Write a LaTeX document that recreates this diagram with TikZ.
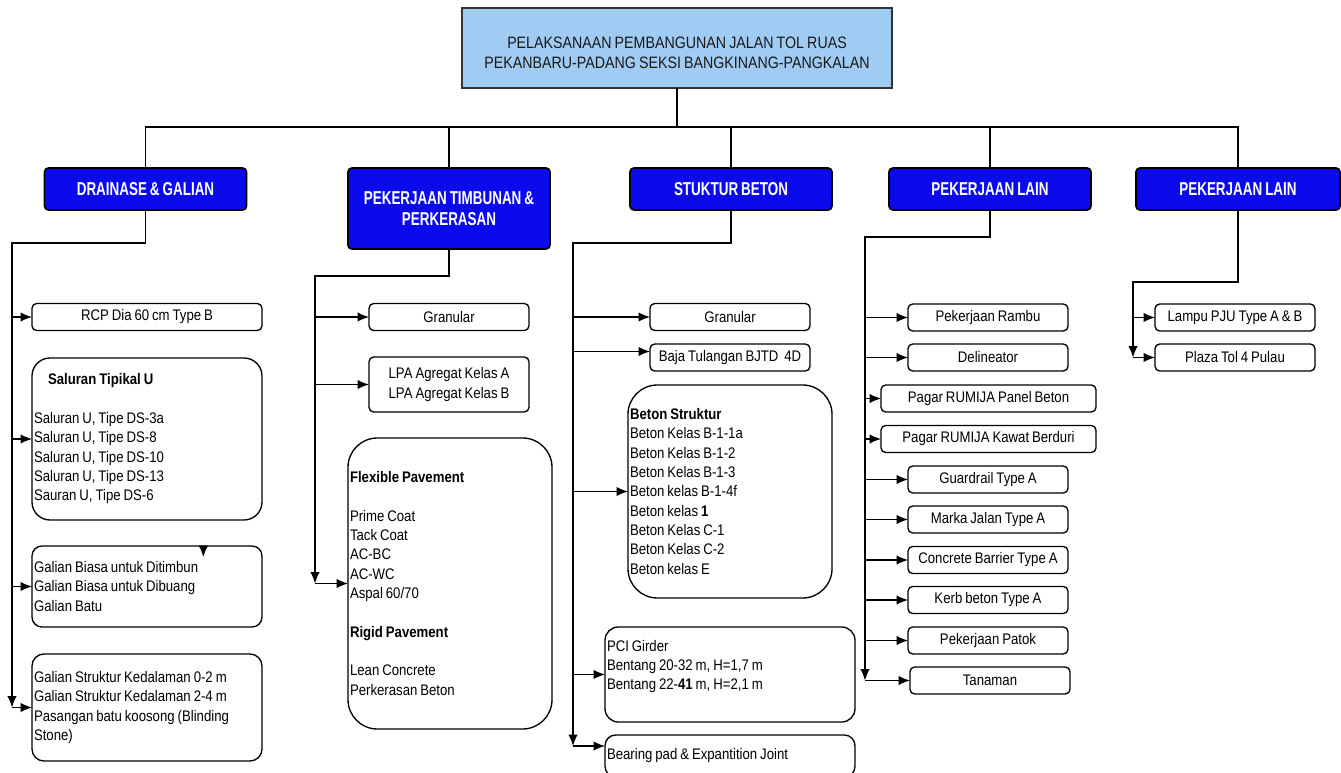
\documentclass[tikz,border=0pt]{standalone}
\usepackage{fontspec}
\setmainfont{Liberation Sans}[FakeStretch=0.86, WordSpace=0.8]
\newfontfamily\headfont{Liberation Sans}[FakeStretch=0.72, WordSpace=0.8]
\usetikzlibrary{arrows.meta}
\definecolor{titlebg}{RGB}{160,204,244}
\definecolor{headbg}{RGB}{10,10,236}

\begin{document}
\begin{tikzpicture}[x=0.75pt, y=-0.75pt,
    every node/.style={inner sep=0pt, outer sep=0pt,
      font=\fontsize{11.5}{14.5}\selectfont},
    titlebox/.style={draw=black!80, line width=1pt, fill=titlebg,
      minimum width=322.5pt, minimum height=60pt, align=center, text=black!90,
      font=\fontsize{12.4}{15}\selectfont},
    headbox/.style={draw=black, line width=1.3pt, fill=headbg,
      rounded corners=3pt, minimum width=151.5pt, minimum height=31.5pt,
      text=white, align=center, font=\headfont\bfseries\fontsize{14}{16}\selectfont},
    itembox/.style={draw, line width=1pt, rounded corners=3.5pt,
      minimum width=120pt, minimum height=20.25pt},
    listbox/.style={draw, line width=1pt, rounded corners=#1,
      align=flush left, inner xsep=1.5pt},
    link/.style={line width=1pt},
    arr/.style={line width=1pt, -{Latex[length=8.5pt,width=7pt]}}]
    \clip (0,0) rectangle (1341,773);
    \node[titlebox] (top) at (677,48)
      {\rule{0pt}{16pt}PELAKSANAAN PEMBANGUNAN JALAN TOL RUAS\\PEKANBARU-PADANG SEKSI BANGKINANG-PANGKALAN};
    \node[headbox] (h1) at (145.5,189) {DRAINASE \& GALIAN};
    \node[headbox, minimum height=60.75pt] (h2) at (449,208.5)
      {PEKERJAAN TIMBUNAN \&\\PERKERASAN};
    \node[headbox] (h3) at (731,189) {STUKTUR BETON};
    \node[headbox] (h4) at (990,189) {PEKERJAAN LAIN};
    \node[headbox, minimum width=153pt] (h5) at (1238,189) {PEKERJAAN LAIN};
    \coordinate (bus) at (675,127);
    \draw[link] (top.south) -- (top.south |- bus);
    \draw[link] (h1.north) |- (h5.north |- bus) -- (h5.north);
    \foreach \h in {h2,h3,h4}
      \draw[link] (\h.north) -- (\h.north |- bus);

    \node[itembox, minimum width=172.5pt] (rcp) at (147,317) {RCP Dia 60 cm Type B};
    \node[listbox=13.5pt, text width=169.5pt, minimum height=121.5pt] (salur) at (147,439)
      {\hspace*{10.5pt}\textbf{Saluran Tipikal U}\\[14.5pt]
       Saluran U, Tipe DS-3a\\Saluran U, Tipe DS-8\\Saluran U, Tipe DS-10\\
       Saluran U, Tipe DS-13\\Sauran U, Tipe DS-6};
    \node[listbox=7.5pt, text width=169.5pt, minimum height=60.75pt] (gal) at (147,586.5)
      {Galian Biasa untuk Ditimbun\\Galian Biasa untuk Dibuang\\Galian Batu};
    \node[listbox=9pt, text width=169.5pt, minimum height=80.25pt] (gst) at (147,707.5)
      {Galian Struktur Kedalaman 0-2 m\\Galian Struktur Kedalaman 2-4 m\\
       Pasangan batu koosong (Blinding\\Stone)};
    \coordinate (c1) at (12,243);
    \draw[arr] (h1.south) |- (c1) -- (c1 |- gst.west);
    \foreach \n in {rcp,salur,gal,gst}
      \draw[arr] (c1 |- \n.west) -- (\n.west);
    \draw[arr] ([xshift=-44pt]gal.north east) -- ++(0,11);

    \node[itembox] (gr1) at (449,317) {Granular};
    \node[itembox, minimum height=41.25pt, align=center] (lpa) at (449,384.5)
      {LPA Agregat Kelas A\\LPA Agregat Kelas B};
    \node[listbox=22pt, text width=150pt, minimum height=218.25pt] (flex) at (450,583.5)
      {\textbf{Flexible Pavement}\\[14.5pt]
       Prime Coat\\Tack Coat\\AC-BC\\AC-WC\\Aspal 60/70\\[14.5pt]
       \textbf{Rigid Pavement}\\[14.5pt]
       Lean Concrete\\Perkerasan Beton};
    \coordinate (c2) at (315,276);
    \draw[arr] (h2.south) |- (c2) -- (c2 |- flex.west);
    \foreach \n in {gr1,lpa,flex}
      \draw[arr] (c2 |- \n.west) -- (\n.west);

    \node[itembox] (gr2) at (730,317) {Granular};
    \node[itembox] (baja) at (730,357.5) {Baja Tulangan BJTD\ \ 4D};
    \node[listbox=22pt, text width=150pt, minimum height=159.75pt] (beton) at (730,491.5)
      {\textbf{Beton Struktur}\\Beton Kelas B-1-1a\\Beton Kelas B-1-2\\
       Beton Kelas B-1-3\\Beton kelas B-1-4f\\Beton kelas \textbf{1}\\
       Beton Kelas C-1\\Beton Kelas C-2\\Beton kelas E};
    \node[listbox=10pt, text width=184.5pt, minimum height=71.25pt] (pci) at (730,674.5)
      {PCI Girder\\Bentang 20-32 m, H=1,7 m\\Bentang 22-\textbf{41} m, H=2,1 m\\~};
    \node[listbox=8pt, text width=184.5pt, minimum height=31.5pt] (bear) at (730,756)
      {Bearing pad \& Expantition Joint};
    \coordinate (c3) at (573,243);
    \draw[arr] (h3.south) |- (c3) -- ([yshift=7.5pt]c3 |- bear.west);
    \foreach \n in {gr2,beton,pci}
      \draw[arr] (c3 |- \n.west) -- (\n.west);
    \draw[arr] ([yshift=4.5pt]c3 |- baja.west) -- ([yshift=4.5pt]baja.west);
    \draw[arr] ([yshift=7.5pt]c3 |- bear.west) -- ([yshift=7.5pt]bear.west);

    \node[itembox] (rambu) at (988,317.5) {Pekerjaan Rambu};
    \node[itembox] (delin) at (988,357.5) {Delineator};
    \node[itembox, minimum width=161.25pt] (panel) at (988.5,398.5) {Pagar RUMIJA Panel Beton};
    \node[itembox, minimum width=161.25pt] (kawat) at (988.5,439) {Pagar RUMIJA Kawat Berduri};
    \node[itembox] (guard) at (988,479.5) {Guardrail Type A};
    \node[itembox] (marka) at (988,519.5) {Marka Jalan Type A};
    \node[itembox] (barrier) at (988,560) {Concrete Barrier Type A};
    \node[itembox] (kerb) at (988,600) {Kerb beton Type A};
    \node[itembox] (patok) at (988,640.5) {Pekerjaan Patok};
    \node[itembox] (tan) at (990,680.5) {Tanaman};
    \coordinate (c4) at (865,237);
    \draw[arr] (h4.south) |- (c4) -- (c4 |- tan.west);
    \foreach \n in {rambu,delin,panel,kawat,guard,marka,barrier,kerb,patok,tan}
      \draw[arr] (c4 |- \n.west) -- (\n.west);

    \node[itembox] (lampu) at (1235,317.5) {Lampu PJU Type A \& B};
    \node[itembox] (plaza) at (1235,357.5) {Plaza Tol 4 Pulau};
    \coordinate (c5) at (1133,282);
    \draw[arr] (h5.south) |- (c5) -- (c5 |- plaza.west);
    \foreach \n in {lampu,plaza}
      \draw[arr] (c5 |- \n.west) -- (\n.west);
  \end{tikzpicture}
\end{document}
